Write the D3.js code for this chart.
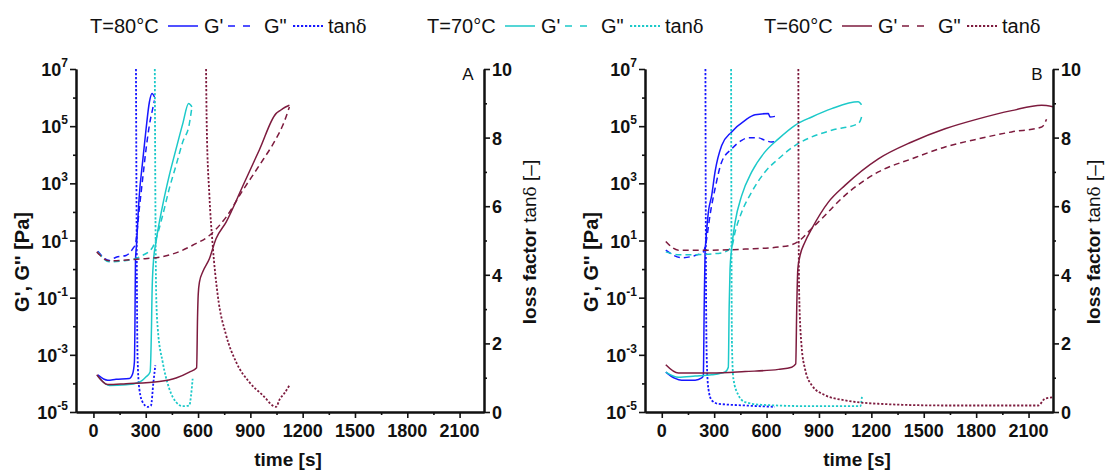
<!DOCTYPE html>
<html>
<head>
<meta charset="utf-8">
<script src="https://cdn.jsdelivr.net/npm/d3@7"></script>
<style>
  body { margin: 0; background: #fff; }
  text { font-family: Arial, "Liberation Sans", sans-serif; fill: #111; }
</style>
</head>
<body>
<svg id="chart" width="1106" height="471"></svg>
<script>
// ticks and labels
var timeTicks = [0, 300, 600, 900, 1200, 1500, 1800, 2100];
var logTicks = [-5, -3, -1, 1, 3, 5, 7];
var tanTicks = [0, 2, 4, 6, 8, 10];
var temps = ["T=80°C", "T=70°C", "T=60°C"];
var colors = ["#1717ff", "#1cc9c9", "#7d1b3e"];

// panel A : [time s, value]
var a80Gp  = [[25,2.0e-4],[82,1.3e-4],[130,1.4e-4],[206,1.5e-4],[225,2.2e-4],[235,5.6e-4],[238,1e-2],[241,1.8],[247,7],[263,380],[282,5.6e3],[302,8.1e4],[321,7e5],[336,1.4e6],[350,1.05e6]];
var a80Gpp = [[25,4.2],[91,2.0],[130,2.6],[187,3.0],[225,5.1],[241,7.8],[263,130],[282,1.4e3],[302,1.6e4],[321,1.1e5],[340,4.1e5],[350,7.9e5]];
var a80Tan = [[244,10],[248,5],[253,1.6],[263,0.68],[282,0.29],[311,0.15],[330,0.19],[344,0.87],[355,1.36]];

var a70Gp  = [[25,1.8e-4],[91,8.5e-5],[187,8.9e-5],[263,1.1e-4],[302,1.7e-4],[325,2.5e-4],[333,0.01],[336,0.13],[344,1.8],[359,8.9],[397,170],[435,1.9e3],[474,1.6e4],[512,1.2e5],[546,6.2e5],[565,4.7e5]];
var a70Gpp = [[25,4.0],[91,1.8],[187,2.0],[282,3.0],[340,5.9],[359,11.5],[397,76],[435,650],[474,4.3e3],[512,2.8e4],[550,1.2e5],[565,4.7e5]];
var a70Tan = [[352,10],[356,5.5],[360,3.4],[369,2.43],[397,1.46],[435,0.68],[474,0.29],[512,0.17],[550,0.19],[560,0.49],[569,0.97]];

var a60Gp  = [[19,2.0e-4],[82,9.1e-5],[187,9.8e-5],[378,1.17e-4],[474,1.55e-4],[550,2.5e-4],[592,3.5e-4],[597,0.02],[601,0.13],[608,0.35],[627,0.8],[665,2.3],[703,11.5],[761,44],[856,790],[952,1.5e4],[1047,2.75e5],[1070,3.5e5],[1086,4.1e5],[1124,5.4e5]];
var a60Gpp = [[19,4.0],[91,1.95],[282,2.3],[378,2.6],[474,3.7],[569,6.8],[665,15],[761,66],[856,560],[952,4.3e3],[1047,3.6e4],[1086,1.07e5],[1124,4.7e5]];
var a60Tan = [[646,10],[650,8.29],[665,6.32],[684,4.86],[713,3.4],[761,2.24],[818,1.46],[894,0.87],[971,0.49],[1047,0.15],[1070,0.39],[1093,0.53],[1124,0.78]];

// panel B : [time s, value]
var b80Gp  = [[23,2.5e-4],[76,1.5e-4],[114,1.3e-4],[191,1.3e-4],[229,1.55e-4],[238,1.9e-4],[243,0.05],[248,4],[252,8.9],[267,100],[286,380],[305,2.5e3],[343,2.1e4],[400,6.3e4],[477,1.6e5],[534,2.5e5],[610,2.75e5],[620,2.1e5],[648,2.2e5]];
var b80Gpp = [[23,4.6],[114,2.5],[191,3.0],[238,4.0],[257,11.5],[276,76],[305,650],[343,5.6e3],[400,1.6e4],[458,3.2e4],[496,3.9e4],[553,3.9e4],[591,3.2e4],[629,2.8e4],[658,2.9e4]];
var b80Tan = [[250,10],[253,4],[258,1.46],[267,0.68],[286,0.34],[324,0.24],[477,0.19],[648,0.15]];

var b70Gp  = [[23,2.5e-4],[95,1.65e-4],[191,1.8e-4],[286,2.0e-4],[362,2.5e-4],[381,3.7e-4],[386,0.05],[391,1.0],[400,5.1],[420,44],[458,380],[515,2.5e3],[591,1.26e4],[668,3.6e4],[763,1.07e5],[859,2.1e5],[973,4.1e5],[1125,7.1e5],[1144,5.6e5]];
var b70Gpp = [[23,4.0],[95,3.2],[191,3.2],[343,3.7],[400,5.9],[420,20],[458,100],[515,500],[591,2.5e3],[668,7.2e3],[763,2.1e4],[859,4.2e4],[973,7.2e4],[1125,1.23e5],[1144,2.1e5],[1148,2.6e5]];
var b70Tan = [[397,10],[399,5],[402,1.95],[410,0.97],[439,0.49],[477,0.29],[572,0.21],[859,0.17],[1137,0.17],[1146,0.44]];

var b60Gp  = [[23,4.5e-4],[95,2.3e-4],[286,2.3e-4],[477,2.6e-4],[668,3.1e-4],[744,3.7e-4],[767,4.8e-4],[773,0.05],[779,1.0],[792,3.0],[820,8.9],[859,26],[954,220],[1049,850],[1240,7.2e3],[1431,2.8e4],[1622,8.1e4],[1812,1.8e5],[2003,3.5e5],[2175,5.4e5],[2240,4.8e5]];
var b60Gpp = [[23,9.3],[95,4.6],[286,4.6],[477,5.0],[668,5.9],[744,7.1],[801,11.5],[839,20],[916,58],[1049,380],[1240,2.5e3],[1431,7.2e3],[1622,1.86e4],[1812,3.6e4],[2003,6.3e4],[2175,9.3e4],[2203,1.74e5]];
var b60Tan = [[782,10],[784,5],[787,3.4],[800,1.95],[820,1.26],[859,0.78],[935,0.49],[1049,0.34],[1240,0.24],[1622,0.19],[2156,0.19],[2194,0.39],[2240,0.43]];

var yTop = 69, yBot = 412;
var svg = d3.select("#chart");

var panels = [
  { name: "A", x0: 76, x1: 484, tMin: -100, rOff: 52,
    series: [[a80Gp, a80Gpp, a80Tan], [a70Gp, a70Gpp, a70Tan], [a60Gp, a60Gpp, a60Tan]] },
  { name: "B", x0: 645, x1: 1053, tMin: -96, rOff: 47,
    series: [[b80Gp, b80Gpp, b80Tan], [b70Gp, b70Gpp, b70Tan], [b60Gp, b60Gpp, b60Tan]] }
];

var dashes = [null, "6,4", "2.2,1.8"];

panels.forEach(function(p) {
  var x = d3.scaleLinear().domain([p.tMin, 2240]).range([p.x0, p.x1]);
  var y = d3.scaleLog().domain([1e-5, 1e7]).range([yBot, yTop]);
  var yr = d3.scaleLinear().domain([0, 10]).range([yBot, yTop]);
  var g = svg.append("g");

  svg.append("clipPath").attr("id", "clip" + p.name)
    .append("rect")
    .attr("x", p.x0).attr("y", yTop)
    .attr("width", p.x1 - p.x0).attr("height", yBot - yTop);

  var plot = g.append("g").attr("clip-path", "url(#clip" + p.name + ")");
  var lineL = d3.line().x(function(d) { return x(d[0]); }).y(function(d) { return y(d[1]); }).curve(d3.curveMonotoneX);
  var lineR = d3.line().x(function(d) { return x(d[0]); }).y(function(d) { return yr(d[1]); }).curve(d3.curveMonotoneX);

  p.series.forEach(function(s, si) {
    s.forEach(function(arr, k) {
      plot.append("path").datum(arr)
        .attr("d", k < 2 ? lineL : lineR)
        .attr("fill", "none")
        .attr("stroke", colors[si])
        .attr("stroke-width", k == 2 ? 1.8 : 1.5)
        .attr("stroke-dasharray", dashes[k]);
    });
  });

  // bottom axis
  var bottom = g.append("g").attr("transform", "translate(0," + yBot + ")");
  bottom.call(d3.axisBottom(x).tickValues(timeTicks).tickSize(6).tickSizeOuter(0).tickFormat(""));
  bottom.append("g").call(d3.axisBottom(x)
    .tickValues(timeTicks.map(function(t) { return t + 150; }).filter(function(t) { return t < 2240; }))
    .tickSize(3).tickSizeOuter(0).tickFormat(""));
  g.selectAll(".xlab").data(timeTicks).enter().append("text")
    .attr("x", function(d) { return x(d); }).attr("y", 437)
    .attr("text-anchor", "middle")
    .attr("font-size", 18).attr("font-weight", "bold")
    .text(function(d) { return d; });
  g.append("text").attr("x", (p.x0 + p.x1) / 2 + 8).attr("y", 466)
    .attr("text-anchor", "middle").attr("font-size", 19).attr("font-weight", "bold")
    .text("time [s]");

  // left log axis
  var left = g.append("g").attr("transform", "translate(" + p.x0 + ",0)");
  left.call(d3.axisLeft(y).tickValues(logTicks.map(function(e) { return Math.pow(10, e); }))
    .tickSize(6).tickSizeOuter(0).tickFormat(""));
  left.append("g").call(d3.axisLeft(y).tickValues([-4, -2, 0, 2, 4, 6].map(function(e) { return Math.pow(10, e); }))
    .tickSize(3).tickSizeOuter(0).tickFormat(""));
  logTicks.forEach(function(e) {
    var t = g.append("text")
      .attr("x", p.x0 - 8).attr("y", y(Math.pow(10, e)) + 7)
      .attr("text-anchor", "end").attr("font-size", 18).attr("font-weight", "bold");
    t.append("tspan").text("10");
    t.append("tspan").attr("font-size", 12).attr("dy", -9).text(e < 0 ? "-" + (-e) : e);
  });
  g.append("text")
    .attr("transform", "translate(" + (p.x0 - 47) + ",262) rotate(-90)")
    .attr("text-anchor", "middle").attr("font-size", 20).attr("font-weight", "bold")
    .text("G', G'' [Pa]");

  // right tan axis
  var right = g.append("g").attr("transform", "translate(" + p.x1 + ",0)");
  right.call(d3.axisRight(yr).tickValues(tanTicks).tickSize(6).tickSizeOuter(0).tickFormat(""));
  right.append("g").call(d3.axisRight(yr).tickValues([1, 3, 5, 7, 9]).tickSize(3).tickSizeOuter(0).tickFormat(""));
  g.selectAll(".rlab").data(tanTicks).enter().append("text")
    .attr("x", p.x1 + 8).attr("y", function(d) { return yr(d) + 7; })
    .attr("font-size", 18).attr("font-weight", "bold")
    .text(function(d) { return d; });
  var rt = g.append("text")
    .attr("transform", "translate(" + (p.x1 + p.rOff) + ",242) rotate(-90)")
    .attr("text-anchor", "middle").attr("font-size", 19);
  rt.append("tspan").attr("font-weight", "bold").text("loss factor ");
  rt.append("tspan").text("tan");
  rt.append("tspan").attr("font-family", "'DejaVu Serif', 'Liberation Serif', serif").attr("font-size", 17).text("δ");
  rt.append("tspan").text(" [–]");

  g.selectAll(".domain").attr("stroke", "#111").attr("stroke-width", 2);
  g.selectAll(".tick line").attr("stroke", "#111").attr("stroke-width", 1.6);

  g.append("text").attr("x", p.x1 - 16).attr("y", 80)
    .attr("text-anchor", "middle").attr("font-size", 17).text(p.name);
});

// legend
var legend = svg.append("g");
var groupX = [90, 427, 764];
temps.forEach(function(label, i) {
  var gx = groupX[i];
  var lg = legend.append("g").attr("transform", "translate(" + gx + ",0)");
  lg.append("text").attr("x", 0).attr("y", 33).attr("font-size", 20).text(label);
  [[78, 108], [138, 162], [203, 233]].forEach(function(seg, k) {
    lg.append("line").attr("x1", seg[0]).attr("x2", seg[1]).attr("y1", 26).attr("y2", 26)
      .attr("stroke", colors[i]).attr("stroke-width", k == 2 ? 1.8 : 1.5)
      .attr("stroke-dasharray", k == 1 ? "7,8" : dashes[k]);
  });
  lg.append("text").attr("x", 114).attr("y", 33).attr("font-size", 20).text("G'");
  lg.append("text").attr("x", 174).attr("y", 33).attr("font-size", 20).text('G"');
  var tt = lg.append("text").attr("x", 238).attr("y", 33).attr("font-size", 20);
  tt.append("tspan").text("tan");
  tt.append("tspan").attr("font-family", "'DejaVu Serif', 'Liberation Serif', serif").attr("font-size", 18).text("δ");
});
</script>
</body>
</html>
